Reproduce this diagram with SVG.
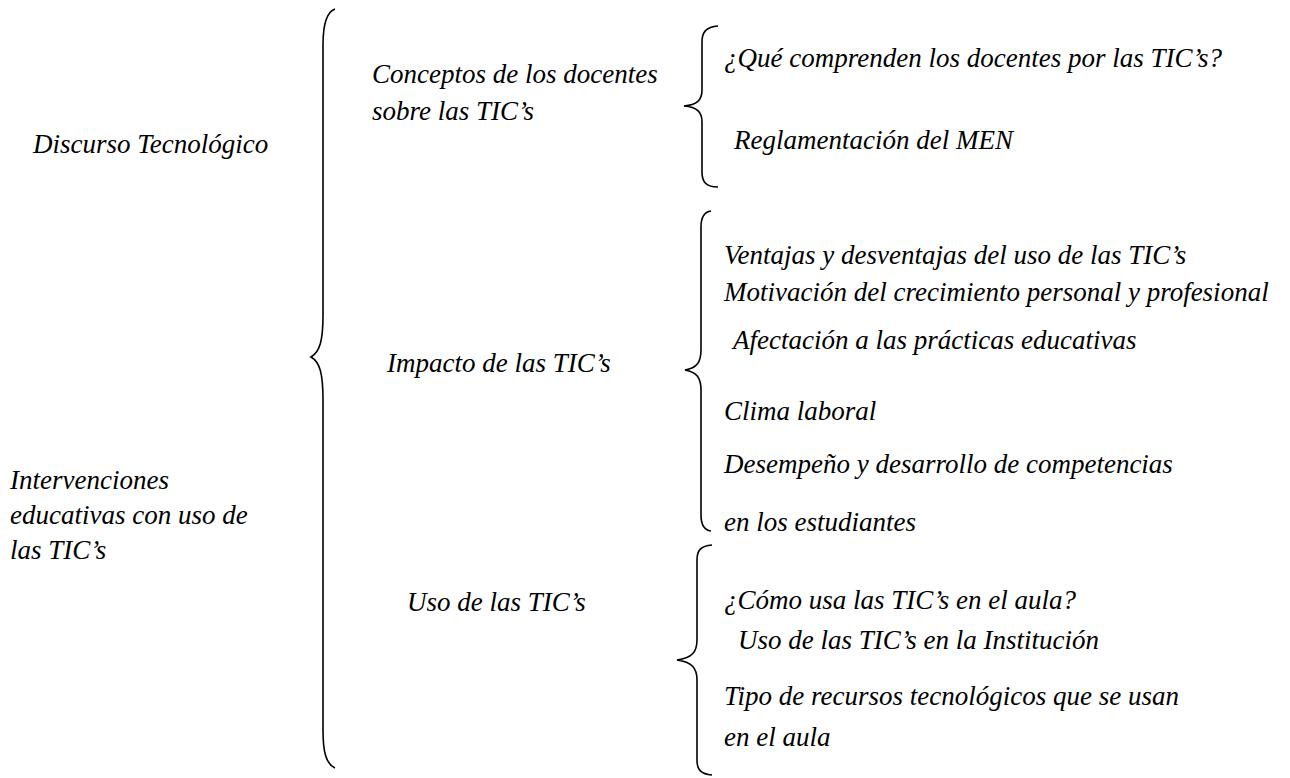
<svg xmlns="http://www.w3.org/2000/svg" width="1290" height="778" viewBox="0 0 1290 778">
<style>
text{font-family:"Liberation Serif","Times New Roman",serif;font-style:italic;font-size:27px;fill:#000}
.br{fill:none;stroke:#000;stroke-width:1.6}
</style>
<rect width="1290" height="778" fill="#fff"/>
<g id="connectors">
<path class="br" d="M335,9 C326,12 323,25 323,45 L323,315 C323,340 320,352 311,357 C320,362 323,374 323,400 L323,730 C323,752 326,764 335,768"/>
<path class="br" d="M718,26 C706,27 702,32 702,42 L702,90 C702,100 697,105 684,106 C697,107 702,112 702,122 L702,172 C702,182 706,187 718,187"/>
<path class="br" d="M711,211 C704,212 701,217 701,227 L701,350 C701,362 697,368 685,370 C697,372 701,378 701,390 L701,515 C701,525 704,530 711,531"/>
<path class="br" d="M712,545 C701,546 697,550 697,560 L697,640 C697,652 692,658 677,660 C692,662 697,668 697,680 L697,760 C697,770 701,774 712,775"/>
</g>
<g id="n-discurso"><text x="33" y="153">Discurso Tecnológico</text></g>
<g id="n-intervenciones"><text x="10" y="489">Intervenciones</text><text x="10" y="524">educativas con uso de</text><text x="10" y="559">las TIC’s</text></g>
<g id="n-conceptos"><text x="372" y="83">Conceptos de los docentes</text><text x="372" y="120">sobre las TIC’s</text></g>
<g id="n-impacto"><text x="387" y="372">Impacto de las TIC’s</text></g>
<g id="n-uso"><text x="407" y="611">Uso de las TIC’s</text></g>
<g id="n-que"><text x="724" y="67">¿Qué comprenden los docentes por las TIC’s?</text></g>
<g id="n-reglamentacion"><text x="734" y="149">Reglamentación del MEN</text></g>
<g id="n-ventajas"><text x="724" y="264">Ventajas y desventajas del uso de las TIC’s</text></g>
<g id="n-motivacion"><text x="724" y="301">Motivación del crecimiento personal y profesional</text></g>
<g id="n-afectacion"><text x="733" y="349">Afectación a las prácticas educativas</text></g>
<g id="n-clima"><text x="724" y="420">Clima laboral</text></g>
<g id="n-desempeno"><text x="724" y="473">Desempeño y desarrollo de competencias</text><text x="724" y="531">en los estudiantes</text></g>
<g id="n-como"><text x="724" y="609">¿Cómo usa las TIC’s en el aula?</text></g>
<g id="n-institucion"><text x="738" y="649">Uso de las TIC’s en la Institución</text></g>
<g id="n-tipo"><text x="724" y="705">Tipo de recursos tecnológicos que se usan</text><text x="724" y="746">en el aula</text></g>
</svg>
